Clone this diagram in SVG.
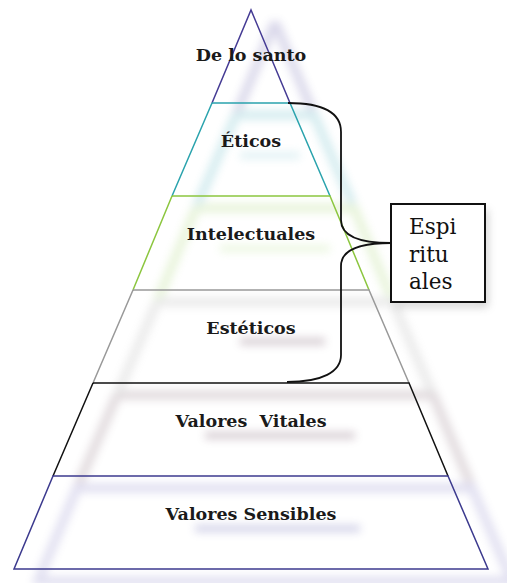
<svg xmlns="http://www.w3.org/2000/svg" width="507" height="583" viewBox="0 0 507 583">
<style>
.lbl{font-family:"DejaVu Serif","Liberation Serif",serif;font-weight:bold;font-size:17.5px;fill:#1a1a1a;text-anchor:middle}
.box{font-family:"DejaVu Serif","Liberation Serif",serif;font-size:21.5px;fill:#111}
.edge{fill:none;stroke-width:1.5}
</style>
<defs>
<filter id="blur" x="-20%" y="-20%" width="140%" height="140%"><feGaussianBlur stdDeviation="4"/></filter>
<filter id="blur2" x="-30%" y="-100%" width="160%" height="300%"><feGaussianBlur stdDeviation="4"/></filter>
</defs>
<rect width="507" height="583" fill="#fff"/>
<g id="ghost" filter="url(#blur)" opacity="0.2" transform="translate(24,12)">
<path d="M251,10 L212,103 M251,10 L290,103" stroke="#4a3f9a" stroke-width="9" fill="none"/>
<path d="M212,103 L290,103 L330,196 M212,103 L172,196" stroke="#2aa0b0" stroke-width="9" fill="none"/>
<path d="M172,196 L330,196 L369,290 M172,196 L133,290" stroke="#8cc84a" stroke-width="9" fill="none"/>
<path d="M133,290 L369,290 L409,383 M133,290 L93,383" stroke="#999" stroke-width="9" fill="none"/>
<path d="M93,383 L409,383 L448,476 M93,383 L53,476" stroke="#6a4a58" stroke-width="9" fill="none"/>
<path d="M53,476 L448,476 L488,569 L14,569 Z" stroke="#6a64b8" stroke-width="9" fill="none"/>
</g>
<g id="textshadows" filter="url(#blur2)" opacity="0.35">
<rect x="240" y="338" width="85" height="7" fill="#8a7080"/>
<rect x="205" y="432" width="150" height="7" fill="#8a7080"/>
<rect x="195" y="525" width="165" height="7" fill="#8080c0"/>
<rect x="220" y="245" width="110" height="7" fill="#c8e8a8"/>
<rect x="240" y="152" width="60" height="7" fill="#a8d8e0"/>
<rect x="480" y="210" width="8" height="96" fill="#777"/>
<rect x="395" y="300" width="92" height="7" fill="#777"/>
</g>
<g id="level-santo">
<path class="edge" d="M212,103 L251,10 L290,103" stroke="#453b94"/>
<text class="lbl" x="251" y="61">De lo santo</text>
</g>
<g id="level-eticos">
<path class="edge" d="M212,103 L290,103 L330,196 M212,103 L172,196" stroke="#2aa3ad"/>
<text class="lbl" x="251" y="147">Éticos</text>
</g>
<g id="level-intelectuales">
<path class="edge" d="M172,196 L330,196 L369,290 M172,196 L133,290" stroke="#8cc63f"/>
<text class="lbl" x="251" y="240">Intelectuales</text>
</g>
<g id="level-esteticos">
<path class="edge" d="M133,290 L369,290 L409,383 M133,290 L93,383" stroke="#999999"/>
<text class="lbl" x="251" y="334">Estéticos</text>
</g>
<g id="level-vitales">
<path class="edge" d="M93,383 L409,383 L448,476 M93,383 L53,476" stroke="#111111"/>
<text class="lbl" x="251" y="427" xml:space="preserve">Valores  Vitales</text>
</g>
<g id="level-sensibles">
<path class="edge" d="M53,476 L448,476 L488,569 L14,569 Z" stroke="#3c3a8e"/>
<text class="lbl" x="251" y="520">Valores Sensibles</text>
</g>
<g id="connectors">
<path d="M288,103 C328,103 341,115 341,132 L341,220 C341,236 360,243 391,243 C360,243 341,250 341,266 L341,355 C341,372 322,382 287,382" fill="none" stroke="#111" stroke-width="1.8"/>
</g>
<g id="espirituales">
<rect x="391" y="204" width="94" height="98" fill="#fff" stroke="#111" stroke-width="2"/>
<text class="box" x="409" y="234">Espi</text>
<text class="box" x="409" y="262">ritu</text>
<text class="box" x="409" y="289">ales</text>
</g>
</svg>
